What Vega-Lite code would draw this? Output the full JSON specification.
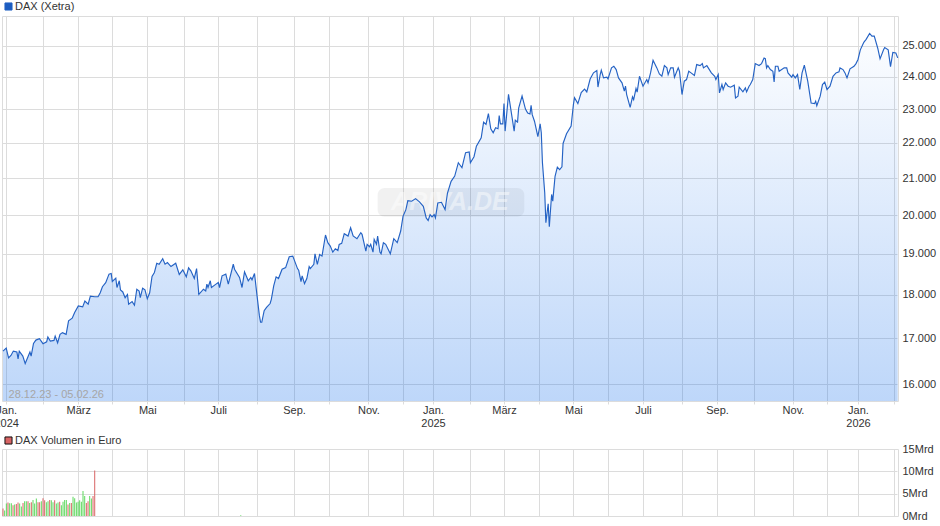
{
  "$schema": "https://vega.github.io/schema/vega-lite/v6.json",
  "description": "DAX (Xetra) Kursverlauf und Volumen, 28.12.23 - 05.02.26",
  "background": "white",
  "padding": {"left": -7, "top": 0, "right": 0, "bottom": 0},
  "bounds": "flush",
  "spacing": 48,
  "resolve": {"scale": {"color": "independent"}, "legend": {"color": "independent"}},
  "config": {
    "font": "Liberation Sans",
    "view": {"stroke": "#dcdcdc", "strokeWidth": 1},
    "axis": {"labelFont": "Liberation Sans", "labelFontSize": 11, "labelColor": "#333333", "title": null, "domain": false, "gridColor": "#dcdcdc", "gridWidth": 1, "gridOpacity": 1},
    "legend": {"labelFont": "Liberation Sans", "labelFontSize": 11, "labelColor": "#333333", "padding": 0}
  },
  "datasets": {
    "dax": [
      {"date":"2023-12-28","close":16711},{"date":"2024-01-01","close":16778},{"date":"2024-01-03","close":16563},{"date":"2024-01-05","close":16615},{"date":"2024-01-07","close":16711},{"date":"2024-01-10","close":16690},{"date":"2024-01-11","close":16540},{"date":"2024-01-12","close":16710},{"date":"2024-01-15","close":16600},{"date":"2024-01-17","close":16438},{"date":"2024-01-19","close":16563},{"date":"2024-01-21","close":16690},{"date":"2024-01-22","close":16600},{"date":"2024-01-24","close":16880},{"date":"2024-01-26","close":16955},{"date":"2024-01-29","close":16985},
      {"date":"2024-02-01","close":16875},{"date":"2024-02-04","close":16918},{"date":"2024-02-05","close":17023},{"date":"2024-02-07","close":16933},{"date":"2024-02-10","close":16948},{"date":"2024-02-11","close":17046},{"date":"2024-02-13","close":16895},{"date":"2024-02-15","close":17085},{"date":"2024-02-17","close":17123},{"date":"2024-02-20","close":17085},{"date":"2024-02-22","close":17392},{"date":"2024-02-25","close":17453},{"date":"2024-02-27","close":17584},
      {"date":"2024-03-01","close":17738},{"date":"2024-03-05","close":17715},{"date":"2024-03-07","close":17854},{"date":"2024-03-10","close":17777},{"date":"2024-03-12","close":17970},{"date":"2024-03-16","close":17954},{"date":"2024-03-19","close":17954},{"date":"2024-03-21","close":18049},{"date":"2024-03-23","close":18194},{"date":"2024-03-26","close":18292},{"date":"2024-03-29","close":18498},{"date":"2024-03-31","close":18514},
      {"date":"2024-04-01","close":18320},{"date":"2024-04-04","close":18401},{"date":"2024-04-05","close":18174},{"date":"2024-04-07","close":18336},{"date":"2024-04-08","close":18117},{"date":"2024-04-10","close":18068},{"date":"2024-04-12","close":17931},{"date":"2024-04-14","close":18008},{"date":"2024-04-15","close":17777},{"date":"2024-04-18","close":17838},{"date":"2024-04-20","close":17754},{"date":"2024-04-22","close":18133},{"date":"2024-04-24","close":18089},{"date":"2024-04-25","close":17931},{"date":"2024-04-27","close":18158},{"date":"2024-04-29","close":18117},
      {"date":"2024-05-01","close":17908},{"date":"2024-05-03","close":18049},{"date":"2024-05-05","close":18441},{"date":"2024-05-07","close":18538},{"date":"2024-05-09","close":18765},{"date":"2024-05-11","close":18741},{"date":"2024-05-14","close":18878},{"date":"2024-05-16","close":18741},{"date":"2024-05-18","close":18781},{"date":"2024-05-21","close":18684},{"date":"2024-05-25","close":18765},{"date":"2024-05-28","close":18490},{"date":"2024-05-31","close":18603},
      {"date":"2024-06-03","close":18433},{"date":"2024-06-05","close":18652},{"date":"2024-06-07","close":18579},{"date":"2024-06-10","close":18392},{"date":"2024-06-12","close":18635},{"date":"2024-06-14","close":18012},{"date":"2024-06-18","close":18133},{"date":"2024-06-20","close":18093},{"date":"2024-06-21","close":18255},{"date":"2024-06-22","close":18174},{"date":"2024-06-24","close":18336},{"date":"2024-06-25","close":18174},{"date":"2024-06-29","close":18255},
      {"date":"2024-07-01","close":18295},{"date":"2024-07-02","close":18174},{"date":"2024-07-04","close":18457},{"date":"2024-07-07","close":18498},{"date":"2024-07-09","close":18255},{"date":"2024-07-13","close":18741},{"date":"2024-07-14","close":18619},{"date":"2024-07-18","close":18417},{"date":"2024-07-20","close":18174},{"date":"2024-07-22","close":18554},{"date":"2024-07-25","close":18336},{"date":"2024-07-27","close":18417},{"date":"2024-07-28","close":18360},{"date":"2024-07-30","close":18514},
      {"date":"2024-08-01","close":17985},{"date":"2024-08-03","close":17511},{"date":"2024-08-04","close":17359},{"date":"2024-08-05","close":17359},{"date":"2024-08-07","close":17626},{"date":"2024-08-09","close":17702},{"date":"2024-08-12","close":17794},{"date":"2024-08-13","close":17893},{"date":"2024-08-15","close":18211},{"date":"2024-08-17","close":18431},{"date":"2024-08-19","close":18390},{"date":"2024-08-22","close":18618},{"date":"2024-08-25","close":18659},{"date":"2024-08-28","close":18927},{"date":"2024-08-31","close":18943},
      {"date":"2024-09-04","close":18634},{"date":"2024-09-05","close":18594},{"date":"2024-09-07","close":18317},{"date":"2024-09-08","close":18455},{"date":"2024-09-10","close":18268},{"date":"2024-09-12","close":18390},{"date":"2024-09-14","close":18683},{"date":"2024-09-15","close":18634},{"date":"2024-09-18","close":18740},{"date":"2024-09-19","close":19000},{"date":"2024-09-21","close":18740},{"date":"2024-09-23","close":18984},{"date":"2024-09-25","close":18943},{"date":"2024-09-28","close":19479},{"date":"2024-09-30","close":19282},
      {"date":"2024-10-02","close":19197},{"date":"2024-10-04","close":19043},{"date":"2024-10-06","close":19128},{"date":"2024-10-08","close":19085},{"date":"2024-10-09","close":19240},{"date":"2024-10-11","close":19265},{"date":"2024-10-13","close":19513},{"date":"2024-10-16","close":19453},{"date":"2024-10-18","close":19667},{"date":"2024-10-20","close":19453},{"date":"2024-10-23","close":19384},{"date":"2024-10-26","close":19539},{"date":"2024-10-27","close":19496},{"date":"2024-10-30","close":19068},{"date":"2024-10-31","close":19240},
      {"date":"2024-11-02","close":19180},{"date":"2024-11-03","close":19240},{"date":"2024-11-05","close":19043},{"date":"2024-11-06","close":19367},{"date":"2024-11-08","close":19240},{"date":"2024-11-09","close":19453},{"date":"2024-11-11","close":19043},{"date":"2024-11-12","close":19000},{"date":"2024-11-14","close":19282},{"date":"2024-11-16","close":19240},{"date":"2024-11-20","close":19000},{"date":"2024-11-23","close":19384},{"date":"2024-11-26","close":19282},{"date":"2024-11-29","close":19581},
      {"date":"2024-12-01","close":19966},{"date":"2024-12-04","close":20143},{"date":"2024-12-06","close":20384},{"date":"2024-12-10","close":20366},{"date":"2024-12-14","close":20437},{"date":"2024-12-18","close":20348},{"date":"2024-12-22","close":20232},{"date":"2024-12-25","close":19923},{"date":"2024-12-27","close":19855},{"date":"2024-12-29","close":20009},{"date":"2024-12-31","close":19949},
      {"date":"2025-01-02","close":20009},{"date":"2025-01-03","close":19923},{"date":"2025-01-05","close":20321},{"date":"2025-01-08","close":20339},{"date":"2025-01-11","close":20143},{"date":"2025-01-13","close":20589},{"date":"2025-01-16","close":20910},{"date":"2025-01-19","close":21055},{"date":"2025-01-22","close":21430},{"date":"2025-01-25","close":21288},{"date":"2025-01-28","close":21715},{"date":"2025-01-31","close":21734},
      {"date":"2025-02-01","close":21430},{"date":"2025-02-04","close":21601},{"date":"2025-02-06","close":21905},{"date":"2025-02-10","close":22147},{"date":"2025-02-12","close":22608},{"date":"2025-02-14","close":22539},{"date":"2025-02-16","close":22863},{"date":"2025-02-18","close":22412},{"date":"2025-02-20","close":22294},{"date":"2025-02-22","close":22441},{"date":"2025-02-24","close":22412},{"date":"2025-02-25","close":22804},{"date":"2025-02-26","close":22559},{"date":"2025-02-28","close":22559},
      {"date":"2025-03-01","close":23170},{"date":"2025-03-02","close":22343},{"date":"2025-03-05","close":23456},{"date":"2025-03-08","close":22784},{"date":"2025-03-10","close":22343},{"date":"2025-03-11","close":22667},{"date":"2025-03-13","close":22608},{"date":"2025-03-14","close":23030},{"date":"2025-03-17","close":23403},{"date":"2025-03-20","close":23000},{"date":"2025-03-22","close":22882},{"date":"2025-03-24","close":22853},{"date":"2025-03-25","close":23117},{"date":"2025-03-26","close":22833},{"date":"2025-03-28","close":22637},{"date":"2025-03-31","close":22177},
      {"date":"2025-04-02","close":22559},{"date":"2025-04-03","close":22294},{"date":"2025-04-04","close":21430},{"date":"2025-04-06","close":20595},{"date":"2025-04-07","close":19795},{"date":"2025-04-09","close":20298},{"date":"2025-04-10","close":19692},{"date":"2025-04-12","close":20550},{"date":"2025-04-13","close":20370},{"date":"2025-04-15","close":21050},{"date":"2025-04-17","close":21304},{"date":"2025-04-19","close":21237},{"date":"2025-04-21","close":21313},{"date":"2025-04-22","close":21981},{"date":"2025-04-25","close":22265},{"date":"2025-04-29","close":22490},
      {"date":"2025-05-01","close":23138},{"date":"2025-05-02","close":23350},{"date":"2025-05-05","close":23170},{"date":"2025-05-08","close":23509},{"date":"2025-05-11","close":23615},{"date":"2025-05-13","close":23530},{"date":"2025-05-16","close":23933},{"date":"2025-05-19","close":24130},{"date":"2025-05-22","close":24200},{"date":"2025-05-23","close":23680},{"date":"2025-05-25","close":24073},{"date":"2025-05-26","close":24213},{"date":"2025-05-28","close":23969},{"date":"2025-05-31","close":23990},
      {"date":"2025-06-01","close":23937},{"date":"2025-06-04","close":24288},{"date":"2025-06-06","close":24340},{"date":"2025-06-08","close":24234},{"date":"2025-06-10","close":23969},{"date":"2025-06-13","close":23812},{"date":"2025-06-15","close":23552},{"date":"2025-06-16","close":23708},{"date":"2025-06-17","close":23448},{"date":"2025-06-20","close":23052},{"date":"2025-06-22","close":23375},{"date":"2025-06-23","close":23292},{"date":"2025-06-25","close":23635},{"date":"2025-06-26","close":23521},{"date":"2025-06-28","close":24021},
      {"date":"2025-07-01","close":23708},{"date":"2025-07-04","close":23917},{"date":"2025-07-05","close":23812},{"date":"2025-07-07","close":24128},{"date":"2025-07-09","close":24532},{"date":"2025-07-12","close":24288},{"date":"2025-07-14","close":24096},{"date":"2025-07-16","close":24021},{"date":"2025-07-18","close":24362},{"date":"2025-07-20","close":24288},{"date":"2025-07-21","close":24074},{"date":"2025-07-23","close":24288},{"date":"2025-07-25","close":24288},{"date":"2025-07-26","close":23990},{"date":"2025-07-29","close":24288},{"date":"2025-07-30","close":24181},
      {"date":"2025-08-01","close":23448},{"date":"2025-08-03","close":23865},{"date":"2025-08-05","close":23917},{"date":"2025-08-07","close":24181},{"date":"2025-08-09","close":24128},{"date":"2025-08-12","close":24043},{"date":"2025-08-14","close":24394},{"date":"2025-08-17","close":24362},{"date":"2025-08-19","close":24426},{"date":"2025-08-20","close":24288},{"date":"2025-08-23","close":24362},{"date":"2025-08-27","close":24128},{"date":"2025-08-30","close":24021},{"date":"2025-08-31","close":23917},
      {"date":"2025-09-02","close":24074},{"date":"2025-09-03","close":23500},{"date":"2025-09-05","close":23760},{"date":"2025-09-06","close":23604},{"date":"2025-09-08","close":23812},{"date":"2025-09-10","close":23708},{"date":"2025-09-12","close":23677},{"date":"2025-09-15","close":23739},{"date":"2025-09-16","close":23344},{"date":"2025-09-18","close":23396},{"date":"2025-09-19","close":23677},{"date":"2025-09-22","close":23531},{"date":"2025-09-24","close":23656},{"date":"2025-09-25","close":23531},{"date":"2025-09-27","close":23708},{"date":"2025-09-28","close":23760},{"date":"2025-09-30","close":23917},
      {"date":"2025-10-02","close":24426},{"date":"2025-10-05","close":24362},{"date":"2025-10-07","close":24426},{"date":"2025-10-09","close":24606},{"date":"2025-10-10","close":24585},{"date":"2025-10-11","close":24288},{"date":"2025-10-12","close":24362},{"date":"2025-10-14","close":24234},{"date":"2025-10-16","close":24181},{"date":"2025-10-17","close":23844},{"date":"2025-10-18","close":24340},{"date":"2025-10-20","close":24340},{"date":"2025-10-21","close":24181},{"date":"2025-10-25","close":24288},{"date":"2025-10-27","close":24288},{"date":"2025-10-28","close":24128},{"date":"2025-10-31","close":23990},
      {"date":"2025-11-01","close":24074},{"date":"2025-11-03","close":23969},{"date":"2025-11-05","close":24074},{"date":"2025-11-07","close":23604},{"date":"2025-11-09","close":24128},{"date":"2025-11-11","close":24373},{"date":"2025-11-14","close":23865},{"date":"2025-11-17","close":23188},{"date":"2025-11-20","close":23167},{"date":"2025-11-21","close":23240},{"date":"2025-11-22","close":23104},{"date":"2025-11-25","close":23396},{"date":"2025-11-27","close":23760},{"date":"2025-11-29","close":23833},
      {"date":"2025-12-01","close":23604},{"date":"2025-12-04","close":23708},{"date":"2025-12-07","close":24021},{"date":"2025-12-10","close":24128},{"date":"2025-12-13","close":24160},{"date":"2025-12-14","close":24288},{"date":"2025-12-17","close":24234},{"date":"2025-12-19","close":24128},{"date":"2025-12-21","close":23969},{"date":"2025-12-24","close":24256},{"date":"2025-12-28","close":24340},{"date":"2025-12-30","close":24426},
      {"date":"2026-01-01","close":24558},{"date":"2026-01-03","close":24873},{"date":"2026-01-06","close":25120},{"date":"2026-01-08","close":25220},{"date":"2026-01-11","close":25420},{"date":"2026-01-13","close":25330},{"date":"2026-01-15","close":25330},{"date":"2026-01-18","close":24926},{"date":"2026-01-20","close":24579},{"date":"2026-01-23","close":24873},{"date":"2026-01-24","close":24950},{"date":"2026-01-27","close":24873},{"date":"2026-01-29","close":24326},{"date":"2026-01-31","close":24790},{"date":"2026-02-03","close":24768},{"date":"2026-02-05","close":24610}
    ],
    "volume": [
      {"date":"2023-12-28T00:00Z","mrd":1.7,"dir":"down"},{"date":"2023-12-30T02:00Z","mrd":1.25,"dir":"up"},{"date":"2024-01-01T03:00Z","mrd":2.8,"dir":"up"},{"date":"2024-01-02T12:00Z","mrd":3.0,"dir":"down"},{"date":"2024-01-03T22:00Z","mrd":2.85,"dir":"up"},{"date":"2024-01-05T08:00Z","mrd":2.85,"dir":"up"},{"date":"2024-01-06T18:00Z","mrd":2.4,"dir":"down"},{"date":"2024-01-08T03:00Z","mrd":2.6,"dir":"up"},{"date":"2024-01-09T13:00Z","mrd":2.7,"dir":"down"},{"date":"2024-01-10T23:00Z","mrd":3.0,"dir":"down"},{"date":"2024-01-12T08:00Z","mrd":2.8,"dir":"up"},{"date":"2024-01-13T18:00Z","mrd":2.1,"dir":"up"},{"date":"2024-01-15T04:00Z","mrd":2.9,"dir":"down"},{"date":"2024-01-16T13:00Z","mrd":3.3,"dir":"up"},{"date":"2024-01-17T23:00Z","mrd":3.3,"dir":"up"},{"date":"2024-01-19T09:00Z","mrd":3.3,"dir":"down"},{"date":"2024-01-20T18:00Z","mrd":2.9,"dir":"up"},{"date":"2024-01-22T04:00Z","mrd":3.1,"dir":"down"},{"date":"2024-01-23T14:00Z","mrd":3.6,"dir":"up"},{"date":"2024-01-24T23:00Z","mrd":2.8,"dir":"up"},{"date":"2024-01-26T09:00Z","mrd":3.9,"dir":"up"},{"date":"2024-01-27T19:00Z","mrd":3.1,"dir":"down"},{"date":"2024-01-29T04:00Z","mrd":3.1,"dir":"down"},{"date":"2024-01-30T14:00Z","mrd":3.3,"dir":"up"},
      {"date":"2024-02-01T00:00Z","mrd":4.0,"dir":"down"},{"date":"2024-02-02T09:00Z","mrd":3.5,"dir":"down"},{"date":"2024-02-03T18:00Z","mrd":3.1,"dir":"up"},{"date":"2024-02-05T03:00Z","mrd":3.3,"dir":"up"},{"date":"2024-02-06T12:00Z","mrd":3.6,"dir":"down"},{"date":"2024-02-07T20:00Z","mrd":3.5,"dir":"up"},{"date":"2024-02-09T05:00Z","mrd":3.1,"dir":"up"},{"date":"2024-02-10T14:00Z","mrd":3.5,"dir":"down"},{"date":"2024-02-11T23:00Z","mrd":2.8,"dir":"up"},{"date":"2024-02-13T08:00Z","mrd":3.0,"dir":"up"},{"date":"2024-02-14T17:00Z","mrd":3.2,"dir":"down"},{"date":"2024-02-16T02:00Z","mrd":2.4,"dir":"up"},{"date":"2024-02-17T11:00Z","mrd":3.2,"dir":"up"},{"date":"2024-02-18T19:00Z","mrd":3.6,"dir":"up"},{"date":"2024-02-20T04:00Z","mrd":3.6,"dir":"up"},{"date":"2024-02-21T13:00Z","mrd":2.6,"dir":"down"},{"date":"2024-02-22T22:00Z","mrd":2.9,"dir":"up"},{"date":"2024-02-24T07:00Z","mrd":2.9,"dir":"down"},{"date":"2024-02-25T16:00Z","mrd":4.3,"dir":"up"},{"date":"2024-02-27T01:00Z","mrd":4.0,"dir":"up"},{"date":"2024-02-28T10:00Z","mrd":3.0,"dir":"up"},
      {"date":"2024-02-29T19:00Z","mrd":3.2,"dir":"up"},{"date":"2024-03-02T06:00Z","mrd":3.5,"dir":"up"},{"date":"2024-03-03T19:00Z","mrd":3.2,"dir":"up"},{"date":"2024-03-05T07:00Z","mrd":5.6,"dir":"up"},{"date":"2024-03-06T20:00Z","mrd":4.5,"dir":"up"},{"date":"2024-03-08T08:00Z","mrd":2.9,"dir":"down"},{"date":"2024-03-09T21:00Z","mrd":3.3,"dir":"down"},{"date":"2024-03-11T09:00Z","mrd":4.5,"dir":"up"},{"date":"2024-03-12T22:00Z","mrd":3.9,"dir":"up"},{"date":"2024-03-14T10:00Z","mrd":4.5,"dir":"down"},{"date":"2024-03-15T23:00Z","mrd":10.2,"dir":"down"},
      {"date":"2024-07-19","mrd":0.15,"dir":"up"}
    ],
    "watermark": [
      {"date":"2024-11-09","date_end":"2025-03-19","close":19955,"close_end":20724}
    ],
    "notes": [
      {"date":"2025-01-15","close":20335,"label":"ARIVA.DE","kind":"watermark"},
      {"date":"2024-01-03","close":15766,"label":"28.12.23 - 05.02.26","kind":"range"}
    ]
  },
  "vconcat": [
    {
      "width": 896,
      "height": 385,
      "encoding": {
        "x": {
          "field": "date",
          "type": "temporal",
          "scale": {
            "domainRaw": {"expr": "[toDate('2023-12-28'),toDate('2024-01-01'),toDate('2024-02-01'),toDate('2024-03-01'),toDate('2024-04-01'),toDate('2024-05-01'),toDate('2024-06-01'),toDate('2024-07-01'),toDate('2024-08-01'),toDate('2024-09-01'),toDate('2024-10-01'),toDate('2024-11-01'),toDate('2024-12-01'),toDate('2025-01-01'),toDate('2025-02-01'),toDate('2025-03-01'),toDate('2025-04-01'),toDate('2025-05-01'),toDate('2025-06-01'),toDate('2025-07-01'),toDate('2025-08-01'),toDate('2025-09-01'),toDate('2025-10-01'),toDate('2025-11-01'),toDate('2025-12-01'),toDate('2026-01-01'),toDate('2026-02-01'),toDate('2026-02-05')]"},
            "range": [1,4.2,41,76.3,110.3,145.3,182,216.3,255,292,327,366.4,401,431,468.4,502,537,571.4,606,641,680,715,752,791,825,856,892,895.7],
            "nice": false
          },
          "axis": {
            "tickCount": {"interval": "month", "step": 1},
            "tickSize": 3,
            "tickColor": "#dcdcdc",
            "labelPadding": 0,
            "labelOverlap": false,
            "labelBound": false,
            "labelFlush": false,
            "labelAngle": 0,
            "labelExpr": "[['Jan.',timeFormat(datum.value,'%Y')],'','März','','Mai','','Juli','','Sep.','','Nov.',''][month(datum.value)]"
          }
        },
        "y": {
          "field": "close",
          "type": "quantitative",
          "scale": {"type": "log", "domain": [15645, 26010], "nice": false},
          "axis": {
            "orient": "right",
            "values": [16000,17000,18000,19000,20000,21000,22000,23000,24000,25000],
            "ticks": false,
            "labelPadding": 4,
            "labelExpr": "replace(format(datum.value,','),',','.')"
          }
        }
      },
      "layer": [
        {
          "data": {"name": "watermark"},
          "mark": {"type": "rect", "color": "#000000", "opacity": 0.055, "cornerRadius": 7},
          "encoding": {
            "x2": {"field": "date_end"},
            "y2": {"field": "close_end"}
          }
        },
        {
          "data": {"name": "dax"},
          "mark": {
            "type": "area",
            "color": {
              "gradient": "linear",
              "x1": 0, "y1": 0, "x2": 0, "y2": 1,
              "stops": [
                {"offset": 0, "color": "rgba(20,110,235,0.01)"},
                {"offset": 1, "color": "rgba(20,110,235,0.28)"}
              ]
            }
          },
          "encoding": {"y2": {"datum": 15645}}
        },
        {
          "data": {"name": "notes"},
          "transform": [{"filter": "datum.kind === 'watermark'"}],
          "mark": {"type": "text", "font": "Liberation Sans", "fontSize": 25, "fontStyle": "italic", "fontWeight": "bold", "color": "#ffffff", "opacity": 0.45},
          "encoding": {"text": {"field": "label"}}
        },
        {
          "data": {"name": "dax"},
          "mark": {"type": "line", "strokeWidth": 1.15, "interpolate": "linear"},
          "encoding": {
            "color": {
              "datum": "DAX (Xetra)",
              "type": "nominal",
              "scale": {"range": ["#2462c4"]},
              "legend": {
                "orient": "none",
                "legendX": 1,
                "legendY": -15,
                "title": null,
                "symbolType": "square",
                "symbolSize": 50,
                "symbolFillColor": "#1c5cc0",
                "symbolStrokeColor": "#111111",
                "symbolStrokeWidth": 1,
                "labelOffset": 1
              }
            }
          }
        },
        {
          "data": {"name": "notes"},
          "transform": [{"filter": "datum.kind === 'range'"}],
          "mark": {"type": "text", "align": "left", "font": "Liberation Sans", "fontSize": 11, "color": "#a6a6a6"},
          "encoding": {"text": {"field": "label"}}
        }
      ]
    },
    {
      "width": 896,
      "height": 67,
      "data": {"name": "volume"},
      "mark": {"type": "bar", "size": 1},
      "encoding": {
        "x": {
          "field": "date",
          "type": "temporal",
          "scale": {
            "domainRaw": {"expr": "[toDate('2023-12-28'),toDate('2024-01-01'),toDate('2024-02-01'),toDate('2024-03-01'),toDate('2024-04-01'),toDate('2024-05-01'),toDate('2024-06-01'),toDate('2024-07-01'),toDate('2024-08-01'),toDate('2024-09-01'),toDate('2024-10-01'),toDate('2024-11-01'),toDate('2024-12-01'),toDate('2025-01-01'),toDate('2025-02-01'),toDate('2025-03-01'),toDate('2025-04-01'),toDate('2025-05-01'),toDate('2025-06-01'),toDate('2025-07-01'),toDate('2025-08-01'),toDate('2025-09-01'),toDate('2025-10-01'),toDate('2025-11-01'),toDate('2025-12-01'),toDate('2026-01-01'),toDate('2026-02-01'),toDate('2026-02-05')]"},
            "range": [1,4.2,41,76.3,110.3,145.3,182,216.3,255,292,327,366.4,401,431,468.4,502,537,571.4,606,641,680,715,752,791,825,856,892,895.7],
            "nice": false
          },
          "axis": {"tickCount": {"interval": "month", "step": 1}, "labels": false, "ticks": false}
        },
        "y": {
          "field": "mrd",
          "type": "quantitative",
          "scale": {"domain": [0, 15]},
          "axis": {"orient": "right", "values": [0, 5, 10, 15], "ticks": false, "labelPadding": 4, "labelExpr": "datum.value + 'Mrd'"}
        },
        "color": {
          "field": "dir",
          "type": "nominal",
          "scale": {"domain": ["down", "up"], "range": ["#d96464", "#5fd85f"]},
          "legend": {
            "orient": "none",
            "legendX": 1,
            "legendY": -14,
            "title": null,
            "values": ["down"],
            "symbolType": "square",
            "symbolSize": 50,
            "symbolStrokeColor": "#111111",
            "symbolStrokeWidth": 1,
            "labelOffset": 1,
            "labelExpr": "'DAX Volumen in Euro'"
          }
        }
      }
    }
  ]
}
